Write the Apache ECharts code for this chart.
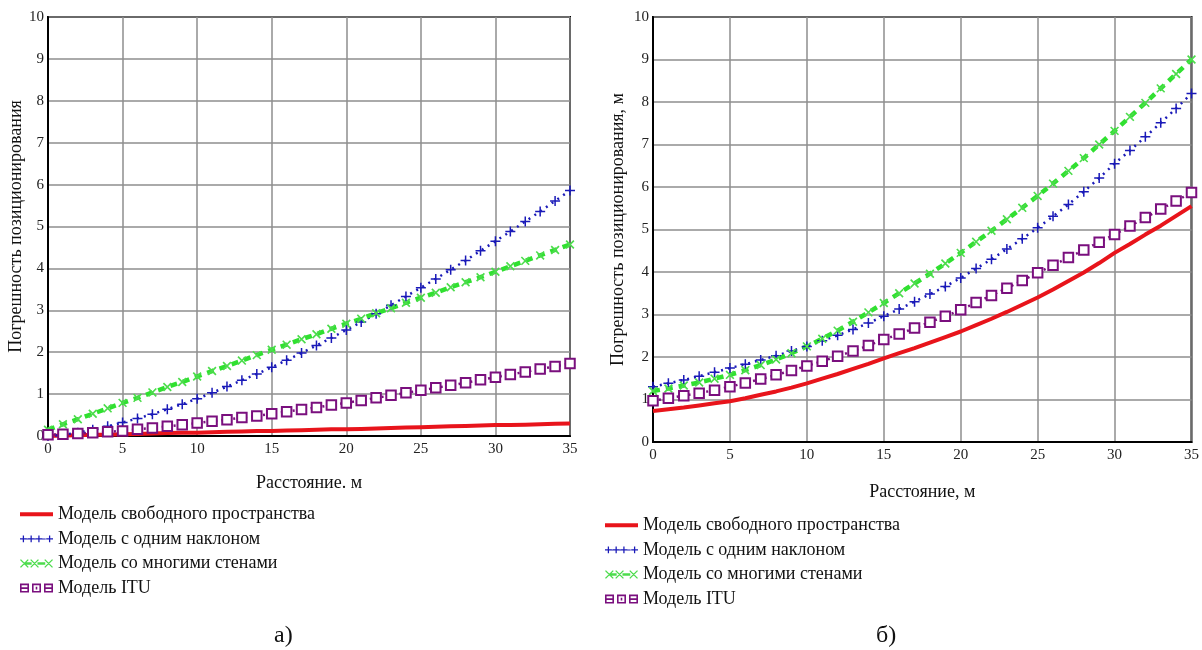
<!DOCTYPE html>
<html>
<head>
<meta charset="utf-8">
<script src="https://cdn.jsdelivr.net/npm/echarts@6/dist/echarts.min.js"></script>
<style>
  html, body { margin: 0; padding: 0; background: #fff; }
  #chart { width: 1202px; height: 650px; }
</style>
</head>
<body>
<div id="chart"></div>
<script>
// Distance, m
const xs = [0,1,2,3,4,5,6,7,8,9,10,11,12,13,14,15,16,17,18,19,20,21,22,23,24,25,26,27,28,29,30,31,32,33,34,35];

const seriesNames = [
  'Модель свободного пространства',
  'Модель с одним наклоном',
  'Модель со многими стенами',
  'Модель ITU'
];

// Panel а) positioning error, m
const freeA   = [0.00,0.01,0.02,0.03,0.03,0.04,0.05,0.06,0.07,0.08,0.08,0.09,0.10,0.11,0.12,0.12,0.13,0.14,0.15,0.16,0.16,0.17,0.18,0.19,0.20,0.21,0.22,0.23,0.24,0.25,0.26,0.26,0.27,0.28,0.29,0.30];
const singleA = [0.00,0.03,0.08,0.15,0.23,0.32,0.42,0.52,0.64,0.76,0.89,1.03,1.18,1.33,1.48,1.64,1.81,1.98,2.16,2.34,2.53,2.72,2.92,3.12,3.33,3.54,3.75,3.97,4.19,4.42,4.65,4.88,5.12,5.36,5.61,5.86];
const multiA  = [0.15,0.28,0.40,0.53,0.66,0.79,0.91,1.04,1.17,1.29,1.42,1.55,1.67,1.80,1.93,2.06,2.18,2.31,2.43,2.56,2.68,2.80,2.93,3.05,3.18,3.30,3.42,3.55,3.67,3.79,3.92,4.05,4.18,4.31,4.44,4.57];
const ituA    = [0.03,0.04,0.06,0.08,0.10,0.12,0.16,0.19,0.23,0.27,0.31,0.35,0.39,0.44,0.48,0.53,0.58,0.63,0.68,0.74,0.79,0.85,0.91,0.97,1.03,1.09,1.15,1.21,1.27,1.34,1.40,1.47,1.53,1.60,1.66,1.73];

// Panel б) positioning error, m
const freeB   = [0.73,0.77,0.81,0.86,0.91,0.96,1.03,1.11,1.19,1.28,1.38,1.49,1.60,1.72,1.84,1.97,2.09,2.21,2.34,2.47,2.60,2.75,2.90,3.06,3.23,3.40,3.59,3.79,3.99,4.21,4.45,4.66,4.88,5.09,5.32,5.55];
const singleB = [1.30,1.38,1.46,1.55,1.64,1.74,1.83,1.93,2.03,2.14,2.25,2.38,2.51,2.65,2.80,2.96,3.13,3.30,3.48,3.66,3.86,4.08,4.30,4.54,4.78,5.04,5.31,5.59,5.89,6.21,6.55,6.86,7.18,7.51,7.85,8.20];
const multiB  = [1.20,1.26,1.33,1.40,1.49,1.58,1.69,1.81,1.94,2.09,2.25,2.43,2.62,2.83,3.05,3.27,3.50,3.73,3.96,4.20,4.45,4.71,4.97,5.24,5.51,5.79,6.08,6.38,6.68,7.00,7.32,7.65,7.98,8.32,8.66,9.00];
const ituB    = [0.97,1.03,1.09,1.15,1.22,1.30,1.39,1.48,1.58,1.68,1.79,1.90,2.02,2.14,2.27,2.41,2.54,2.68,2.82,2.96,3.11,3.28,3.45,3.62,3.80,3.98,4.16,4.34,4.52,4.70,4.88,5.08,5.28,5.48,5.67,5.87];

const FONT = '"Liberation Serif", "Times New Roman", serif';
const PLUS = 'path://M4.25,0H5.75V10H4.25ZM0,4.25H10V5.75H0Z';

const COLORS = { free: '#e8141b', single: '#1a1ab8', multiMark: '#4cdc4c', multiLine: '#30e030', itu: '#7a0f7e' };

// ---- legend glyphs: small rows of the plot markers ----
function plusGlyph(c) {
  return `M${c - 0.65},1.5H${c + 0.65}V8.5H${c - 0.65}Z` +
         `M${c - 3.5},4.35H${c + 3.5}V5.65H${c - 3.5}Z`;
}
function crossGlyph(c) {
  return `M${c - 4.5},1.5L${c - 3.5},0.5L${c + 4.5},8.5L${c + 3.5},9.5Z` +
         `M${c - 3.5},9.5L${c - 4.5},8.5L${c + 3.5},0.5L${c + 4.5},1.5Z`;
}
function boxGlyph(x, bar) {
  let p = `M${x},0.5H${x + 9}V9.5H${x}Z` + `M${x + 1.6},2.1V7.9H${x + 7.4}V2.1Z`;
  if (bar) p += `M${x + 1.6},4.2H${x + 7.4}V5.8H${x + 1.6}Z`;
  else p += `M${x + 3.7},3.7H${x + 5.3}V6.3H${x + 3.7}Z`;
  return p;
}
const ICON_FREE   = 'path://M0,3H34V7H0Z';
const ICON_SINGLE = 'path://' + [3, 11, 19, 30].map(plusGlyph).join('') + 'M6.5,4.5H8V5.5H6.5Z M14.5,4.5H16V5.5H14.5Z M22.5,4.5H26V5.5H22.5Z';
const ICON_MULTI  = 'path://' + [4.5, 15, 29.5].map(crossGlyph).join('') + 'M5,3.7H12V6.3H5Z M18,3.7H26V6.3H18Z';
const ICON_ITU    = 'path://' + boxGlyph(0, true) + boxGlyph(12, false) + boxGlyph(24, true);
const legendIcons = [ICON_FREE, ICON_SINGLE, ICON_MULTI, ICON_ITU];

const pairs = ys => xs.map((x, i) => [x, ys[i]]);

function panelSeries(idx, free, single, multi, itu) {
  const base = { type: 'line', xAxisIndex: idx, yAxisIndex: idx, animation: false, z: 3 };
  return [
    Object.assign({}, base, {
      name: seriesNames[0], data: pairs(free), showSymbol: false, symbol: 'none',
      itemStyle: { color: COLORS.free },
      lineStyle: { color: COLORS.free, width: 4 }
    }),
    Object.assign({}, base, {
      name: seriesNames[1], data: pairs(single), symbol: PLUS, symbolSize: 10,
      itemStyle: { color: COLORS.single },
      lineStyle: { color: COLORS.single, width: 2.5, type: [2, 5] }
    }),
    Object.assign({}, base, {
      name: seriesNames[2], data: pairs(multi), symbol: PLUS, symbolSize: 11, symbolRotate: 45,
      itemStyle: { color: COLORS.multiMark },
      lineStyle: { color: COLORS.multiLine, width: 4.5, type: [7, 6] }
    }),
    Object.assign({}, base, {
      name: seriesNames[3], data: pairs(itu), symbol: 'emptyRect', symbolSize: 9.5,
      itemStyle: { color: COLORS.itu, borderWidth: 1.6 },
      lineStyle: { color: COLORS.itu, width: 2.5, type: [2, 4] }
    })
  ];
}

function xAxisFor(idx, title, gap) {
  return {
    type: 'value', gridIndex: idx, min: 0, max: 35, interval: 5,
    name: title, nameLocation: 'middle', nameGap: gap,
    nameTextStyle: { fontFamily: FONT, fontSize: 18, color: '#111' },
    axisLine: { show: true, onZero: false, lineStyle: { color: '#000', width: 2 } },
    axisTick: { show: false },
    axisLabel: { fontFamily: FONT, fontSize: 15, color: '#222', margin: 6 },
    splitLine: { show: true, lineStyle: { color: '#8e8e8e', width: 1.5 } }
  };
}

function yAxisFor(idx, title, gap) {
  return {
    type: 'value', gridIndex: idx, min: 0, max: 10, interval: 1,
    name: title, nameLocation: 'middle', nameGap: gap,
    nameTextStyle: { fontFamily: FONT, fontSize: 18, color: '#111' },
    axisLine: { show: true, onZero: false, lineStyle: { color: '#000', width: 2 } },
    axisTick: { show: false },
    axisLabel: { fontFamily: FONT, fontSize: 15, color: '#222', margin: 4 },
    splitLine: { show: true, lineStyle: { color: '#8e8e8e', width: 1.5 } }
  };
}

function legendFor(left, top) {
  return {
    orient: 'vertical', left: left, top: top, padding: 0,
    itemWidth: 33, itemHeight: 11, itemGap: 6,
    symbolKeepAspect: true,
    data: seriesNames.map((n, i) => ({ name: n, icon: legendIcons[i], itemStyle: { borderWidth: 0 } })),
    textStyle: { fontFamily: FONT, fontSize: 18, color: '#111', lineHeight: 18.6 },
    selectedMode: false
  };
}

const chart = echarts.init(document.getElementById('chart'), null, { renderer: 'canvas' });

chart.setOption({
  backgroundColor: '#fff',
  animation: false,
  grid: [
    { left: 48, top: 17, width: 522, height: 419, show: true, borderColor: '#000', borderWidth: 2, backgroundColor: '#fff' },
    { left: 653, top: 17, width: 539, height: 425, show: true, borderColor: '#000', borderWidth: 2, backgroundColor: '#fff' }
  ],
  xAxis: [
    xAxisFor(0, 'Расстояние. м', 38),
    xAxisFor(1, 'Расстояние, м', 41)
  ],
  yAxis: [
    yAxisFor(0, 'Погрешность позиционирования', 20),
    yAxisFor(1, 'Погрешность позиционирования, м', 26)
  ],
  legend: [
    legendFor(20, 505),
    legendFor(605, 516)
  ],
  graphic: [
    { type: 'text', left: 274, top: 624, style: { text: 'а)', font: '24px ' + FONT, fill: '#111' } },
    { type: 'text', left: 876, top: 624, style: { text: 'б)', font: '24px ' + FONT, fill: '#111' } }
  ],
  series: [].concat(
    panelSeries(0, freeA, singleA, multiA, ituA),
    panelSeries(1, freeB, singleB, multiB, ituB)
  )
});
</script>
</body>
</html>
